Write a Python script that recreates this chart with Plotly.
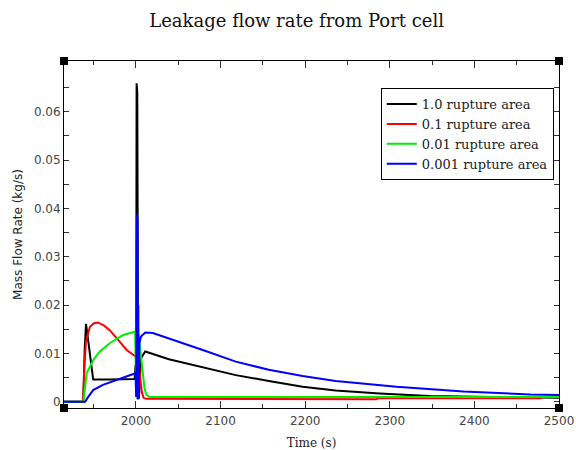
import plotly.graph_objects as go

# ---- data ----
t_black = [1915, 1937.7, 1939.5, 1941, 1942, 1944, 1947, 1949.5, 1970, 1990, 1998.5, 1999.5, 2000.3,
           2000.8, 2001.6, 2002.6, 2003.6, 2006, 2011, 2039, 2079, 2118, 2157, 2197, 2236, 2288,
           2347, 2400, 2450, 2500]
v_black = [0, 0, 0.011, 0.0161, 0.0148, 0.0118, 0.0075, 0.0046, 0.0046, 0.0046, 0.0047, 0.0074, 0.0074,
           0.0659, 0.064, 0.004, 0.0008, 0.009, 0.0104, 0.0088, 0.0072, 0.0055, 0.0043, 0.0031, 0.0023,
           0.0017, 0.0012, 0.001, 0.0009, 0.0008]

t_red = [1915, 1937.7, 1939, 1941, 1945.6, 1950, 1955, 1962, 1969, 1975, 1981, 1989, 2000, 2000.6,
         2001.2, 2002, 2003, 2005, 2007, 2009, 2012, 2284, 2286, 2480]
v_red = [0, 0, 0.007, 0.0125, 0.0155, 0.0162, 0.0164, 0.0158, 0.0148, 0.0137, 0.0124, 0.0107, 0.0093,
         0.001, 0.02, 0.0005, 0.009, 0.005, 0.002, 0.0008, 0.0006, 0.0005, 0.0007, 0.0007]

t_green = [1915, 1938, 1941.7, 1949.5, 1957.4, 1969, 1985, 1999, 2000.6, 2001.3, 2002, 2003, 2005,
           2008, 2010, 2012, 2016, 2500]
v_green = [0, 0, 0.0059, 0.0086, 0.0104, 0.0121, 0.0138, 0.0145, 0.001, 0.031, 0.0005, 0.014, 0.011,
           0.0066, 0.003, 0.0015, 0.001, 0.001]

t_blue = [1915, 1940, 1943.6, 1949.5, 1961, 1977, 1989, 1999.5, 2000.3, 2001.2, 2001.8, 2002.3, 2002.8,
          2003.3, 2004, 2006, 2011, 2020, 2039, 2079, 2118, 2157, 2197, 2236, 2308, 2387, 2466, 2500]
v_blue = [0, 0, 0.001, 0.0024, 0.0035, 0.0045, 0.0052, 0.0059, 0.001, 0.0387, 0.038, 0.0005, 0.02,
          0.0005, 0.012, 0.0135, 0.0143, 0.0142, 0.0131, 0.0107, 0.0083, 0.0066, 0.0053, 0.0043,
          0.0031, 0.0021, 0.0015, 0.0014]

y_ticks = [0, 0.01, 0.02, 0.03, 0.04, 0.05, 0.06]
y_tick_labels = ["0", "0.01", "0.02", "0.03", "0.04", "0.05", "0.06"]
y_minor = [0.005, 0.015, 0.025, 0.035, 0.045, 0.055, 0.065]

series = [
    ("1.0 rupture area", t_black, v_black, "#000000"),
    ("0.1 rupture area", t_red, v_red, "#ff0000"),
    ("0.01 rupture area", t_green, v_green, "#00ee00"),
    ("0.001 rupture area", t_blue, v_blue, "#0000ff"),
]

fig = go.Figure()
for name, t, v, c in series:
    fig.add_trace(go.Scatter(x=t, y=v, mode="lines", name=name,
                             line=dict(color=c, width=2)))

axis_common = dict(showline=True, linecolor="black", linewidth=1, mirror="ticks",
                   ticks="inside", tickcolor="#333", showgrid=False, zeroline=False,
                   automargin=False,
                   tickfont=dict(family="DejaVu Sans", size=12, color="#444"))

fig.update_layout(
    width=576, height=450,
    margin=dict(l=64, r=17, t=61, b=42),
    paper_bgcolor="white", plot_bgcolor="white",
    title=dict(text="Leakage flow rate from Port cell", x=0.515, xanchor="center",
               yref="container", y=0.955, yanchor="middle",
               font=dict(family="DejaVu Serif", size=18, color="#111")),
    xaxis=dict(range=[1915, 2500], tick0=2000, dtick=100, ticklen=7, ticklabelstandoff=2,
               minor=dict(dtick=50, tick0=2000, ticks="inside", ticklen=4, tickcolor="#333"),
               title=dict(text="Time (s)", standoff=11,
                          font=dict(family="DejaVu Serif", size=12, color="#222")),
               **axis_common),
    yaxis=dict(range=[-0.0013, 0.0705], tickvals=y_ticks, ticktext=y_tick_labels, ticklen=5,
               minor=dict(tickvals=y_minor, ticks="inside", ticklen=5, tickcolor="#333"),
               title=dict(text="Mass Flow Rate (kg/s)", standoff=8,
                          font=dict(family="DejaVu Sans", size=12, color="#222")),
               **axis_common),
    legend=dict(x=0.64, y=0.922, xanchor="left", yanchor="top",
                bgcolor="white", bordercolor="black", borderwidth=1,
                font=dict(family="DejaVu Serif", size=13, color="#222"),
                tracegroupgap=0, itemwidth=30),
    showlegend=True,
)

# corner markers
for xa, ya in [(0, 0), (1, 0), (0, 1), (1, 1)]:
    fig.add_shape(type="rect", xref="paper", yref="paper",
                  xsizemode="pixel", ysizemode="pixel", xanchor=xa, yanchor=ya,
                  x0=-4, x1=4, y0=-4, y1=4,
                  fillcolor="black", line=dict(color="black", width=0))

fig.write_html("out.html", config={"displayModeBar": False},
               post_script="document.body.style.margin='0';")
